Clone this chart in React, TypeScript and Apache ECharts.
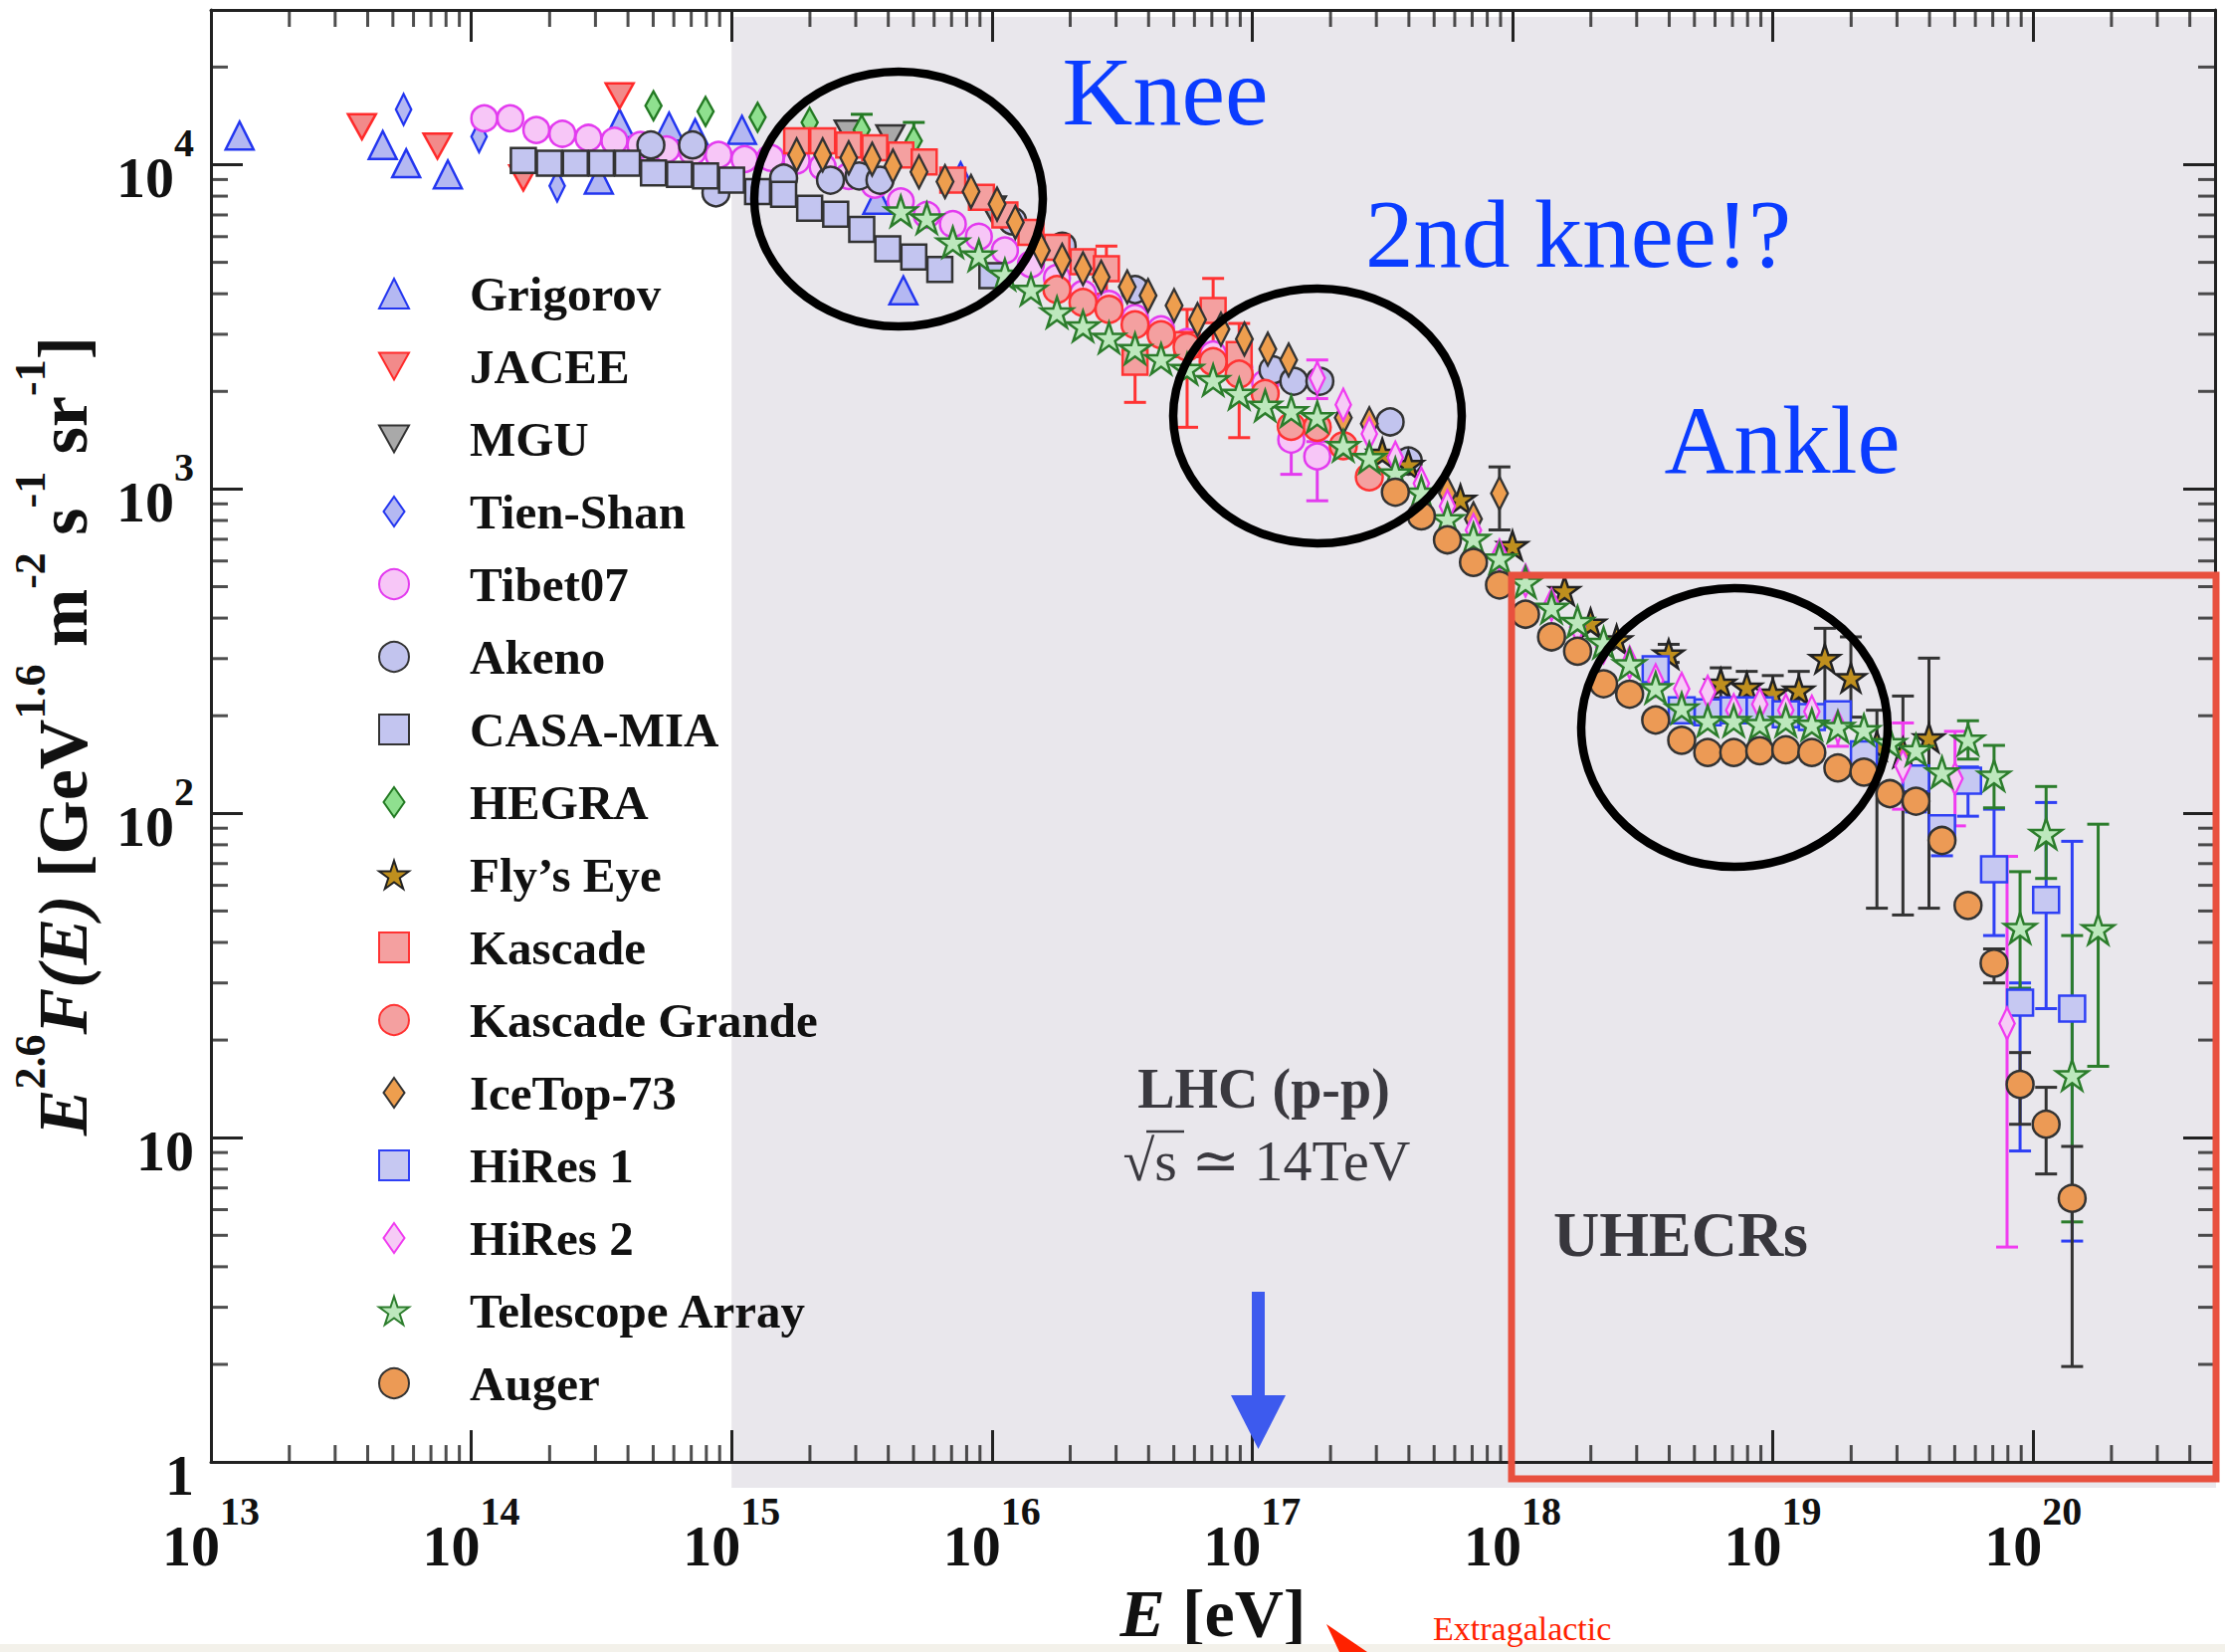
import React, { useEffect, useRef } from 'react';
import * as echarts from 'echarts';

const FONT = '"Liberation Serif", "Times New Roman", serif';

// ---- axis ranges / ticks ----
const X_MIN = 1e13;
const X_MAX = 5e20;
const Y_MIN = 1;
const Y_MAX = 3e4;
const X_DECADES = [13, 14, 15, 16, 17, 18, 19, 20];
const Y_DECADES = [0, 1, 2, 3, 4];
const MINOR_STEPS = [2, 3, 4, 5, 6, 7, 8, 9];

// ---- data: lgE = log10(E / eV), flux = E^2.6 F(E) [GeV^1.6 m^-2 s^-1 sr^-1] ----
const grigorovLgE = [13.11, 13.66, 13.75, 13.91, 14.49, 14.57, 14.76, 14.86, 15.04, 15.56, 15.66, 15.88];
const grigorovFlux = [12300, 11500, 10100, 9330, 9000, 13400, 13100, 12500, 12800, 7800, 4100, 9200];

const jaceeLgE = [13.58, 13.87, 14.2, 14.57];
const jaceeFlux = [13100, 11400, 9100, 16300];

const mguLgE = [15.45, 15.61, 16.0];
const mguFlux = [12500, 12100, 7300];

const tienShanLgE = [13.74, 14.03, 14.33];
const tienShanFlux = [14800, 12200, 8600];

const tibetLgE = [14.05, 14.15, 14.25, 14.35, 14.45, 14.55, 14.65, 14.75, 14.85, 14.95, 15.05, 15.15, 15.25, 15.35, 15.45, 15.55, 15.65, 15.75, 15.85, 15.95, 16.05, 16.15, 16.25, 16.35, 16.45, 16.55, 16.65, 16.75, 16.85, 16.95, 17.05, 17.15, 17.25];
const tibetFlux = [13900, 13900, 12800, 12450, 12100, 11850, 11500, 11150, 10950, 10720, 10400, 10500, 10300, 9850, 9230, 8670, 7710, 7000, 6560, 6000, 5440, 4930, 4480, 4000, 3720, 3370, 3110, 2840, 2600, 2370, 2120, 1420, 1260];
const tibetErr = [[17.15, 1110, 1610], [17.25, 920, 1400]];

const akenoLgE = [14.69, 14.85, 14.94, 15.2, 15.38, 15.49, 15.57, 16.08, 16.27, 16.55, 17.08, 17.16, 17.26, 17.53, 17.6];
const akenoFlux = [11500, 11500, 8190, 9090, 8960, 9230, 8960, 6700, 5610, 4120, 2330, 2150, 2150, 1610, 1220];

const casaLgE = [14.2, 14.3, 14.4, 14.5, 14.6, 14.7, 14.8, 14.9, 15.0, 15.1, 15.2, 15.3, 15.4, 15.5, 15.6, 15.7, 15.8, 16.0];
const casaFlux = [10300, 10100, 10100, 10100, 10100, 9430, 9330, 9230, 8960, 8270, 8100, 7340, 7040, 6320, 5500, 5190, 4750, 4550];

const hegraLgE = [14.7, 14.9, 15.1, 15.3, 15.5, 15.7];
const hegraFlux = [15200, 14600, 14000, 13500, 12800, 11850];
const hegraErr = [[15.5, 11000, 14300], [15.7, 10000, 13500]];

const flysEyeLgE = [17.5, 17.6, 17.8, 18.0, 18.2, 18.3, 18.4, 18.6, 18.8, 18.9, 19.0, 19.1, 19.2, 19.3, 19.4, 19.5, 19.6];
const flysEyeFlux = [1290, 1190, 930, 670, 486, 386, 343, 310, 252, 245, 235, 240, 300, 262, 162, 154, 171];
const flysEyeErr = [[18.6, 292, 332], [18.8, 227, 281], [18.9, 222, 274], [19.0, 208, 266], [19.1, 208, 274], [19.2, 212, 372], [19.3, 198, 350], [19.4, 51, 208], [19.5, 48.6, 230], [19.6, 51, 301]];

const kascadeLgE = [15.25, 15.35, 15.45, 15.55, 15.65, 15.74, 15.85, 15.96, 16.05, 16.15, 16.25, 16.35, 16.44, 16.55, 16.75, 16.85, 16.95];
const kascadeFlux = [11850, 11850, 11500, 11270, 10720, 10200, 8960, 7940, 7000, 6190, 5560, 5020, 4780, 2460, 2790, 3550, 2600];
const kascadeErr = [[16.44, 3990, 5610], [16.55, 1850, 3240], [16.75, 1550, 3580], [16.85, 2650, 4460], [16.95, 1440, 3240]];

const kgLgE = [16.25, 16.35, 16.45, 16.55, 16.65, 16.75, 16.85, 16.95, 17.05, 17.15, 17.25, 17.35, 17.45];
const kgFlux = [4120, 3760, 3580, 3210, 2990, 2740, 2470, 2260, 1970, 1560, 1550, 1360, 1090];

const iceTopLgE = [15.25, 15.35, 15.45, 15.54, 15.62, 15.72, 15.82, 15.92, 16.02, 16.09, 16.19, 16.27, 16.35, 16.42, 16.52, 16.6, 16.7, 16.79, 16.88, 16.97, 17.06, 17.14, 17.35, 17.45, 17.75, 17.85, 17.95];
const iceTopFlux = [10720, 10720, 10500, 10400, 9900, 9500, 8870, 8270, 7560, 6640, 5440, 5070, 4780, 4500, 4200, 3950, 3680, 3330, 3110, 2900, 2700, 2500, 1660, 1590, 970, 809, 970];
const iceTopErr = [[17.95, 748, 1170]];

const hires1LgE = [18.55, 18.65, 18.75, 18.85, 18.95, 19.05, 19.15, 19.25, 19.35, 19.55, 19.65, 19.75, 19.85, 19.95, 20.05, 20.15];
const hires1Flux = [278, 208, 205, 208, 208, 202, 198, 202, 152, 128, 89.9, 126, 67.2, 26.1, 54.1, 25];
const hires1Err = [[19.55, 101, 139], [19.65, 74, 96], [19.75, 98, 139], [19.85, 42, 103], [19.95, 9.1, 30], [20.05, 25, 108], [20.15, 4.8, 82]];

const hires2LgE = [17.25, 17.35, 17.45, 17.55, 17.65, 17.75, 17.85, 17.95, 18.05, 18.15, 18.25, 18.35, 18.45, 18.55, 18.65, 18.75, 18.85, 18.95, 19.05, 19.15, 19.25, 19.5, 19.7, 19.9];
const hires2Flux = [2200, 1820, 1480, 1250, 1040, 885, 747, 624, 522, 440, 375, 326, 292, 257, 242, 237, 208, 217, 208, 206, 185, 140, 128, 22.5];
const hires2Err = [[17.25, 1900, 2500], [19.25, 161, 211], [19.5, 103, 190], [19.7, 91.5, 179], [19.9, 4.6, 73.7]];

const taLgE = [15.65, 15.75, 15.85, 15.95, 16.05, 16.15, 16.25, 16.35, 16.45, 16.55, 16.65, 16.75, 16.85, 16.95, 17.05, 17.15, 17.25, 17.35, 17.45, 17.55, 17.65, 17.75, 17.85, 17.95, 18.05, 18.15, 18.25, 18.35, 18.45, 18.55, 18.65, 18.75, 18.85, 18.95, 19.05, 19.15, 19.25, 19.35, 19.45, 19.55, 19.65, 19.75, 19.85, 19.95, 20.05, 20.15, 20.25];
const taFlux = [7190, 6840, 5770, 5260, 4590, 4120, 3510, 3180, 2930, 2710, 2520, 2350, 2170, 1970, 1810, 1740, 1670, 1360, 1250, 1120, 978, 809, 704, 612, 516, 431, 390, 336, 289, 244, 211, 193, 193, 189, 193, 188, 185, 181, 165, 157, 134, 169, 131, 44.4, 86.6, 15.6, 44];
const taErr = [[19.75, 147, 193], [19.85, 104, 162], [19.95, 28.9, 66.1], [20.05, 63, 121], [20.15, 5.5, 42], [20.25, 16.6, 92.6]];

const augerLgE = [17.55, 17.65, 17.75, 17.85, 17.95, 18.05, 18.15, 18.25, 18.35, 18.45, 18.55, 18.65, 18.75, 18.85, 18.95, 19.05, 19.15, 19.25, 19.35, 19.45, 19.55, 19.65, 19.75, 19.85, 19.95, 20.05, 20.15];
const augerFlux = [978, 826, 697, 594, 506, 411, 350, 316, 251, 233, 194, 168, 154, 154, 156, 157, 154, 138, 134, 115, 109, 82.5, 52, 34.5, 14.6, 11.0, 6.5];
const augerErr = [[19.85, 30, 38.2], [19.95, 11.0, 18.3], [20.05, 7.73, 14.3], [20.15, 1.97, 9.4]];

// ---- symbols ----
const STAR = 'path://M12,0 L14.8,8.5 L23.8,8.5 L16.5,13.8 L19.3,22.4 L12,17.1 L4.7,22.4 L7.5,13.8 L0.2,8.5 L9.2,8.5 Z';
const DOWN_TRI = 'path://M0,0 L20,0 L10,18 Z';
const DIAMOND = 'path://M7,0 L14,10 L7,20 L0,10 Z';

const EXPERIMENTS = [
  { name: 'Grigorov', lgE: grigorovLgE, flux: grigorovFlux, symbol: 'triangle', size: 28, fill: '#B4B8F2', stroke: '#2336F0' },
  { name: 'JACEE', lgE: jaceeLgE, flux: jaceeFlux, symbol: DOWN_TRI, size: 28, fill: '#F28A8A', stroke: '#FF2A2A' },
  { name: 'MGU', lgE: mguLgE, flux: mguFlux, symbol: DOWN_TRI, size: 28, fill: '#A9A9A9', stroke: '#333333' },
  { name: 'Tien-Shan', lgE: tienShanLgE, flux: tienShanFlux, symbol: DIAMOND, size: [22, 31], fill: '#B4B8F2', stroke: '#2336F0' },
  { name: 'Tibet07', lgE: tibetLgE, flux: tibetFlux, symbol: 'circle', size: 26, fill: '#F7C6F7', stroke: '#E33BEF', err: tibetErr, errColor: '#E33BEF' },
  { name: 'Akeno', lgE: akenoLgE, flux: akenoFlux, symbol: 'circle', size: 27, fill: '#C2C4EE', stroke: '#333333' },
  { name: 'CASA-MIA', lgE: casaLgE, flux: casaFlux, symbol: 'rect', size: 25, fill: '#C3C5F0', stroke: '#333333' },
  { name: 'HEGRA', lgE: hegraLgE, flux: hegraFlux, symbol: DIAMOND, size: [23, 29], fill: '#8FE08F', stroke: '#237A23', err: hegraErr, errColor: '#237A23' },
  { name: 'Fly\u2019s Eye', lgE: flysEyeLgE, flux: flysEyeFlux, symbol: STAR, size: 30, fill: '#BF8F1E', stroke: '#222222', err: flysEyeErr, errColor: '#333333' },
  { name: 'Kascade', lgE: kascadeLgE, flux: kascadeFlux, symbol: 'rect', size: 25, fill: '#F4A0A0', stroke: '#FF3333', err: kascadeErr, errColor: '#FF3333' },
  { name: 'Kascade Grande', lgE: kgLgE, flux: kgFlux, symbol: 'circle', size: 27, fill: '#F4A0A0', stroke: '#FF3333' },
  { name: 'IceTop-73', lgE: iceTopLgE, flux: iceTopFlux, symbol: DIAMOND, size: [24, 33], fill: '#EE9E4E', stroke: '#333333', err: iceTopErr, errColor: '#333333' },
  { name: 'HiRes 1', lgE: hires1LgE, flux: hires1Flux, symbol: 'rect', size: 26, fill: '#C6C8F2', stroke: '#2F40F5', err: hires1Err, errColor: '#2F40F5' },
  { name: 'HiRes 2', lgE: hires2LgE, flux: hires2Flux, symbol: DIAMOND, size: [22, 32], fill: '#F6CBF6', stroke: '#F03CF0', err: hires2Err, errColor: '#F03CF0' },
  { name: 'Telescope Array', lgE: taLgE, flux: taFlux, symbol: STAR, size: 32, fill: '#BDE8BD', stroke: '#2C7D2C', err: taErr, errColor: '#2C7D2C' },
  { name: 'Auger', lgE: augerLgE, flux: augerFlux, symbol: 'circle', size: 27, fill: '#EC9A55', stroke: '#333333', err: augerErr, errColor: '#333333' },
];

const xMinor = X_DECADES.flatMap((d) => MINOR_STEPS.map((k) => k * Math.pow(10, d))).filter((v) => v < X_MAX);
const yMinor = Y_DECADES.flatMap((d) => MINOR_STEPS.map((k) => k * Math.pow(10, d))).filter((v) => v < Y_MAX);

const tickRich = {
  b: { fontFamily: FONT, fontWeight: 'bold', fontSize: 58, lineHeight: 84, verticalAlign: 'bottom', color: '#111' },
  s: { fontFamily: FONT, fontWeight: 'bold', fontSize: 40, lineHeight: 50, verticalAlign: 'top', color: '#111' },
};

function powLabel(v: number): string {
  const l = Math.log10(v);
  const e = Math.round(l);
  if (Math.abs(l - e) > 1e-6) return '';
  if (e === 0) return '{b|1}';
  if (e === 1) return '{b|10}';
  return `{b|10}{s|${e}}`;
}

function errSeries(name: string, color: string, rows: number[][]) {
  return {
    type: 'custom',
    name: name + ' error',
    silent: true,
    z: 1,
    data: rows.map(([lg, lo, hi]) => [Math.pow(10, lg), lo, hi]),
    encode: { x: 0, y: [1, 2] },
    renderItem: (params: any, api: any) => {
      const x = api.value(0);
      const pHi = api.coord([x, api.value(2)]);
      const pLo = api.coord([x, api.value(1)]);
      const cw = 11;
      const style = { stroke: color, lineWidth: 3 };
      return {
        type: 'group',
        children: [
          { type: 'line', shape: { x1: pHi[0], y1: pHi[1], x2: pLo[0], y2: pLo[1] }, style },
          { type: 'line', shape: { x1: pHi[0] - cw, y1: pHi[1], x2: pHi[0] + cw, y2: pHi[1] }, style },
          { type: 'line', shape: { x1: pLo[0] - cw, y1: pLo[1], x2: pLo[0] + cw, y2: pLo[1] }, style },
        ],
      };
    },
  };
}

function tickSeries(data: number[][], size: number[], offset: number[]) {
  return {
    type: 'scatter',
    silent: true,
    clip: false,
    symbol: 'rect',
    symbolSize: size,
    symbolOffset: offset,
    itemStyle: { color: '#222' },
    emphasis: { disabled: true },
    data,
    z: 6,
  };
}

function buildOption() {
  const series: any[] = [];
  EXPERIMENTS.forEach((ex) => {
    if (ex.err) series.push(errSeries(ex.name, ex.errColor as string, ex.err));
  });
  EXPERIMENTS.forEach((ex) => {
    series.push({
      type: 'scatter',
      name: ex.name,
      symbol: ex.symbol,
      symbolSize: ex.size,
      symbolKeepAspect: true,
      itemStyle: { color: ex.fill, borderColor: ex.stroke, borderWidth: 2.5, opacity: 1 },
      emphasis: { disabled: true },
      data: ex.lgE.map((l, i) => [Math.pow(10, l), ex.flux[i]]),
      z: 3,
    });
  });
  series.push(tickSeries(xMinor.map((v) => [v, Y_MIN]), [3, 17], [0, -8.5]));
  series.push(tickSeries(xMinor.map((v) => [v, Y_MAX]), [3, 17], [0, 8.5]));
  series.push(tickSeries(yMinor.map((v) => [X_MIN, v]), [17, 3], [8.5, 0]));
  series.push(tickSeries(yMinor.map((v) => [X_MAX, v]), [17, 3], [-8.5, 0]));

  const axisLine = { show: true, lineStyle: { color: '#222', width: 3 } };
  const majorTick = { show: true, inside: true, length: 32, lineStyle: { color: '#222', width: 3 } };

  return {
    animation: false,
    backgroundColor: 'transparent',
    grid: { left: 212, right: 10, top: 10, bottom: 176 },
    legend: {
      data: EXPERIMENTS.map((e) => e.name),
      orient: 'vertical',
      left: 380,
      top: 270,
      padding: 0,
      itemWidth: 30,
      itemHeight: 30,
      itemGap: 23,
      selectedMode: false,
      textStyle: {
        fontFamily: FONT,
        fontWeight: 'bold',
        fontSize: 49,
        lineHeight: 50,
        color: '#111',
        padding: [0, 0, 0, 56],
      },
    },
    xAxis: [
      {
        type: 'log',
        min: X_MIN,
        max: X_MAX,
        interval: 1,
        axisLine,
        axisTick: majorTick,
        splitLine: { show: false },
        axisLabel: { margin: 29, formatter: powLabel, rich: tickRich, showMinLabel: true, showMaxLabel: true, interval: 0 },
        name: '{i|E}{b| [eV]}',
        nameLocation: 'middle',
        nameGap: 106,
        nameTextStyle: {
          rich: {
            i: { fontFamily: FONT, fontWeight: 'bold', fontStyle: 'italic', fontSize: 68, lineHeight: 80, color: '#111' },
            b: { fontFamily: FONT, fontWeight: 'bold', fontSize: 68, lineHeight: 80, color: '#111' },
          },
        },
      },
      {
        type: 'log',
        position: 'top',
        min: X_MIN,
        max: X_MAX,
        interval: 1,
        axisLine,
        axisTick: majorTick,
        axisLabel: { show: false },
        splitLine: { show: false },
      },
    ],
    yAxis: [
      {
        type: 'log',
        min: Y_MIN,
        max: Y_MAX,
        interval: 1,
        axisLine,
        axisTick: majorTick,
        splitLine: { show: false },
        axisLabel: { margin: 17, formatter: powLabel, rich: tickRich, showMinLabel: true, showMaxLabel: true, interval: 0 },
        name: '{bi|E}{sup|2.6}{bi|F(E)}{b| [GeV}{sup|1.6}{b| m}{sup|-2}{b| s}{sup|-1}{b| sr}{sup|-1}{b|]}',
        nameLocation: 'middle',
        nameRotate: 90,
        nameGap: 114,
        nameTextStyle: {
          rich: {
            bi: { fontFamily: FONT, fontWeight: 'bold', fontStyle: 'italic', fontSize: 70, lineHeight: 90, verticalAlign: 'bottom', color: '#111' },
            b: { fontFamily: FONT, fontWeight: 'bold', fontSize: 70, lineHeight: 90, verticalAlign: 'bottom', color: '#111' },
            sup: { fontFamily: FONT, fontWeight: 'bold', fontSize: 44, lineHeight: 70, verticalAlign: 'top', color: '#111' },
          },
        },
      },
      {
        type: 'log',
        position: 'right',
        min: Y_MIN,
        max: Y_MAX,
        interval: 1,
        axisLine,
        axisTick: majorTick,
        axisLabel: { show: false },
        splitLine: { show: false },
      },
    ],
    series,
  };
}

function buildGraphic(x15: number) {
  const blue = '#0A3CFF';
  const grey = '#3A393F';
  return [
    { type: 'rect', z: -1, silent: true, shape: { x: x15, y: 17, width: 2227 - x15, height: 1495 - 17 }, style: { fill: '#E9E7EC' } },
    { type: 'ellipse', z: 50, silent: true, shape: { cx: 903, cy: 200, rx: 145, ry: 128 }, style: { fill: 'none', stroke: '#000', lineWidth: 8.5 } },
    { type: 'ellipse', z: 50, silent: true, shape: { cx: 1324, cy: 418, rx: 145, ry: 128 }, style: { fill: 'none', stroke: '#000', lineWidth: 8.5 } },
    { type: 'ellipse', z: 50, silent: true, shape: { cx: 1743, cy: 731, rx: 154, ry: 140 }, style: { fill: 'none', stroke: '#000', lineWidth: 8.5 } },
    { type: 'rect', z: 50, silent: true, shape: { x: 1519, y: 578, width: 708, height: 908 }, style: { fill: 'none', stroke: '#E8503E', lineWidth: 7 } },
    { type: 'rect', z: 50, silent: true, shape: { x: 1258, y: 1298, width: 13, height: 106 }, style: { fill: '#3D5AEE' } },
    { type: 'polygon', z: 50, silent: true, shape: { points: [[1237, 1402], [1292, 1402], [1264.5, 1456]] }, style: { fill: '#3D5AEE' } },
    { type: 'text', z: 50, silent: true, x: 1171, y: 92, style: { text: 'Knee', fill: blue, fontFamily: FONT, fontSize: 98, align: 'center', verticalAlign: 'middle' } },
    { type: 'text', z: 50, silent: true, x: 1586, y: 235, style: { text: '2nd knee!?', fill: blue, fontFamily: FONT, fontSize: 97, align: 'center', verticalAlign: 'middle' } },
    { type: 'text', z: 50, silent: true, x: 1791, y: 442, style: { text: 'Ankle', fill: blue, fontFamily: FONT, fontSize: 97, align: 'center', verticalAlign: 'middle' } },
    { type: 'text', z: 50, silent: true, x: 1270, y: 1094, style: { text: 'LHC (p-p)', fill: grey, fontFamily: FONT, fontWeight: 'bold', fontSize: 56, align: 'center', verticalAlign: 'middle' } },
    { type: 'text', z: 50, silent: true, x: 1273, y: 1166, style: { text: '\u221As \u2243 14TeV', fill: grey, fontFamily: '"Liberation Serif", "DejaVu Serif", serif', fontSize: 58, align: 'center', verticalAlign: 'middle' } },
    { type: 'line', z: 50, silent: true, shape: { x1: 1152, y1: 1137, x2: 1190, y2: 1137 }, style: { stroke: grey, lineWidth: 2.5 } },
    { type: 'text', z: 50, silent: true, x: 1689, y: 1240, style: { text: 'UHECRs', fill: '#38373D', fontFamily: FONT, fontWeight: 'bold', fontSize: 64, align: 'center', verticalAlign: 'middle' } },
    { type: 'rect', z: 60, silent: true, shape: { x: 0, y: 1652, width: 2236, height: 8 }, style: { fill: '#F3F1EA' } },
    { type: 'polygon', z: 61, silent: true, shape: { points: [[1333, 1632], [1374, 1660], [1346, 1660]] }, style: { fill: '#FF2200' } },
    { type: 'text', z: 61, silent: true, x: 1440, y: 1636, style: { text: 'Extragalactic', fill: '#FF2200', fontFamily: FONT, fontSize: 34, align: 'left', verticalAlign: 'middle' } },
  ];
}

export default function App() {
  const ref = useRef<HTMLDivElement>(null);
  useEffect(() => {
    document.body.style.margin = '0';
    const chart = echarts.init(ref.current as HTMLDivElement, null, { renderer: 'svg', width: 2236, height: 1660 });
    chart.setOption(buildOption() as any);
    let x15 = chart.convertToPixel({ xAxisIndex: 0 }, 1e15) as any;
    if (typeof x15 !== 'number' || !isFinite(x15)) x15 = 735;
    chart.setOption({ graphic: buildGraphic(x15) } as any);
    return () => chart.dispose();
  }, []);
  return <div ref={ref} style={{ width: 2236, height: 1660, position: 'absolute', left: 0, top: 0, background: '#fff', overflow: 'hidden' }} />;
}
